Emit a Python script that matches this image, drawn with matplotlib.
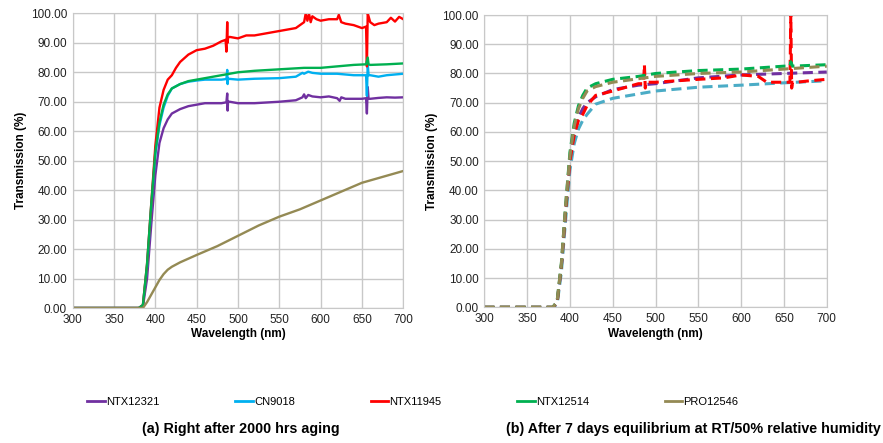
import matplotlib
matplotlib.use('Agg')
import matplotlib.pyplot as plt
from matplotlib.lines import Line2D

plt.rcParams['font.family'] = ['Liberation Sans', 'DejaVu Sans']

names = ['NTX12321', 'CN9018', 'NTX11945', 'NTX12514', 'PRO12546']
colors_a = ['#7030a0', '#00b0f0', '#ff0000', '#00b050', '#948a54']
colors_b = ['#7030a0', '#4bacc6', '#ff0000', '#00b050', '#948a54']

# (a) right after 2000 hrs aging
wl_purple_a = [300, 350, 380, 385, 390, 395, 400, 405, 410, 415, 420, 430, 440, 450, 460, 470, 480,
               486, 487, 487.5, 488, 490, 500, 520, 550, 570, 578, 580, 582, 585, 590, 600, 610, 620,
               623, 625, 630, 640, 650, 655, 656, 657, 658, 660, 670, 680, 690, 700]
t_purple_a = [0, 0, 0, 0.5, 10, 28, 45, 56, 61, 64, 66, 67.5, 68.5, 69, 69.5, 69.5, 69.5,
              69.8, 72.8, 67, 70, 70, 69.5, 69.5, 70, 70.5, 71.5, 72.5, 71.2, 72.3, 71.8, 71.5, 71.8, 71.2,
              70.3, 71.5, 71, 71, 71, 71.2, 66, 75, 71, 71, 71.3, 71.5, 71.4, 71.5]

wl_cyan_a = [300, 350, 380, 385, 390, 395, 400, 405, 410, 415, 420, 430, 440, 450, 460, 480,
             486, 487, 487.5, 488, 500, 520, 550, 570, 578, 580, 585, 590, 600, 620, 640, 655,
             656, 657, 658, 660, 670, 680, 700]
t_cyan_a = [0, 0, 0, 1, 14, 34, 52, 62, 68, 72, 74.5, 76, 76.8, 77.2, 77.5, 77.5,
            77.7, 80.8, 76, 77.8, 77.5, 77.8, 78, 78.5, 79.8, 79.5, 80.2, 79.8, 79.5, 79.5, 79, 79,
            72, 83, 79, 79, 78.5, 79, 79.5]

wl_red_a = [300, 350, 380, 385, 390, 395, 400, 405, 410, 415, 420, 425, 430, 440, 450, 460, 470, 480,
            485, 486, 487, 487.5, 488, 490, 500, 510, 520, 530, 540, 550, 560, 570, 575, 580, 582,
            584, 586, 588, 590, 595, 600, 610, 620, 622, 625, 630, 640, 650, 655, 656, 657, 658, 660,
            665, 670, 680, 685, 690, 695, 700]
t_red_a = [0, 0, 0, 1, 15, 35, 55, 68, 74, 77.5, 79, 81.5, 83.5, 86, 87.5, 88, 89, 90.5,
           91, 87, 97, 90, 91.8, 92, 91.5, 92.5, 92.5, 93, 93.5, 94, 94.5, 95, 96, 97, 100,
           97.5, 99.8, 97, 99, 98, 97.5, 98, 98, 99.5, 97, 96.5, 96, 95, 95.5, 82, 100, 99, 97,
           96, 96.5, 97, 98.5, 97.2, 98.8, 98]

wl_green_a = [300, 350, 380, 385, 390, 395, 400, 405, 410, 415, 420, 430, 440, 450, 460, 470, 480,
              490, 500, 520, 550, 580, 600, 620, 640, 655, 657, 658, 660, 680, 700]
t_green_a = [0, 0, 0, 1, 15, 35, 53, 63, 69, 72.5, 74.5, 76, 77, 77.5, 78, 78.5, 79,
             79.5, 80, 80.5, 81, 81.5, 81.5, 82, 82.5, 82.7, 85, 82.7, 82.5, 82.7, 83]

wl_olive_a = [300, 350, 385, 390, 395, 400, 405, 410, 415, 420, 430, 450, 475, 500, 525, 550, 575,
              600, 625, 650, 675, 700]
t_olive_a = [0, 0, 0, 2, 4.5, 7, 9.5, 11.5, 13, 14, 15.5, 18, 21, 24.5, 28, 31, 33.5,
             36.5, 39.5, 42.5, 44.5, 46.5]

# (b) after 7 days equilibrium
wl_purple_b = [300, 380, 385, 390, 395, 400, 405, 410, 415, 420, 430, 450, 480, 500, 550, 600, 650, 700]
t_purple_b = [0, 0, 1.5, 14, 33, 50, 59, 65, 68, 70, 72, 74.5, 76, 76.5, 78.5, 79.5, 80, 80.5]

wl_cyan_b = [300, 380, 385, 390, 395, 400, 405, 410, 415, 420, 430, 450, 500, 550, 600, 650, 700]
t_cyan_b = [0, 0, 1, 12, 30, 47, 56, 61, 64, 66, 69.5, 71.5, 74, 75.3, 76, 76.8, 77.5]

wl_red_b = [300, 380, 385, 390, 395, 400, 405, 410, 415, 420, 430, 450, 480, 486, 487, 488, 489, 490,
            500, 550, 580, 590, 600, 620, 630, 650, 657, 658, 659, 660, 665, 680, 700]
t_red_b = [0, 0, 1.5, 14, 33, 50, 59, 64, 66, 69, 72.5, 74, 76.5, 76.5, 83, 75, 77, 77,
           77, 78, 78.5, 79, 79.5, 79, 77, 77, 77, 100, 75, 77, 77, 77.5, 78]

wl_green_b = [300, 380, 385, 390, 395, 400, 405, 410, 415, 420, 430, 450, 480, 500, 550, 600, 650,
              657, 658, 660, 700]
t_green_b = [0, 0, 2, 15, 35, 53, 63, 69, 72.5, 75, 76.5, 78, 79, 80, 81, 81.5, 82.5, 82.5, 84, 82.5, 83]

wl_olive_b = [300, 380, 385, 390, 395, 400, 405, 410, 415, 420, 430, 450, 500, 550, 600, 650, 700]
t_olive_b = [0, 0, 2, 15, 35, 52, 62, 68, 71.5, 74, 75.5, 77, 79, 80, 80.5, 81.5, 82.5]

series_a = [(wl_purple_a, t_purple_a), (wl_cyan_a, t_cyan_a), (wl_red_a, t_red_a),
            (wl_green_a, t_green_a), (wl_olive_a, t_olive_a)]
series_b = [(wl_purple_b, t_purple_b), (wl_cyan_b, t_cyan_b), (wl_red_b, t_red_b),
            (wl_green_b, t_green_b), (wl_olive_b, t_olive_b)]

fig = plt.figure(figsize=(8.83, 4.43), dpi=100)
ax1 = fig.add_axes([0.0823, 0.3047, 0.3744, 0.6652])
ax2 = fig.add_axes([0.5485, 0.3063, 0.3878, 0.6598])


def style(ax):
    ax.set_xlim(300, 700)
    ax.set_ylim(0, 100)
    ax.set_xticks(range(300, 701, 50))
    ax.set_yticks(range(0, 101, 10))
    ax.set_yticklabels(['%.2f' % v for v in range(0, 101, 10)])
    ax.grid(True, color='#c8c8c8', linewidth=1)
    ax.set_axisbelow(True)
    for s in ax.spines.values():
        s.set_color('#c8c8c8')
    ax.tick_params(length=0, labelsize=8.5, colors='#222222', pad=4)
    ax.set_xlabel('Wavelength (nm)', fontsize=8.5, fontweight='bold', labelpad=2)
    ax.set_ylabel('Transmission (%)', fontsize=8.5, fontweight='bold', labelpad=3)


for (wl, t), c in zip(series_a, colors_a):
    ax1.plot(wl, t, color=c, lw=1.7)
style(ax1)

for (wl, t), c in zip(series_b, colors_b):
    ax2.plot(wl, t, color=c, lw=2.2, dashes=(3.3, 1.8))
style(ax2)

handles = [Line2D([], [], color=c, lw=2) for c in colors_a]
fig.legend(handles, names, loc='center', bbox_to_anchor=(413 / 883, 1 - 402 / 443), ncol=5,
           frameon=False, fontsize=8, handlelength=1.6, handletextpad=0.1, columnspacing=6.8)

fig.text(241 / 883, 1 - 429 / 443, '(a) Right after 2000 hrs aging', ha='center', va='center',
         fontsize=10.3, fontweight='bold')
fig.text(693 / 883, 1 - 429 / 443, '(b) After 7 days equilibrium at RT/50% relative humidity',
         ha='center', va='center', fontsize=10.3, fontweight='bold')

fig.savefig('out.png', dpi=100)
